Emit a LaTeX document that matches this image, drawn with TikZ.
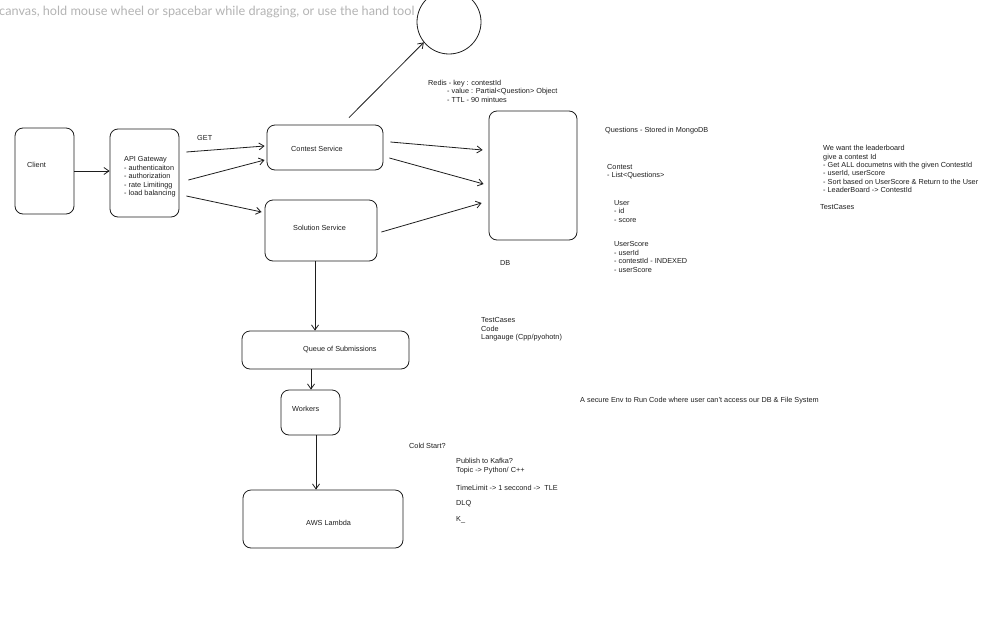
\documentclass[tikz,border=0pt]{standalone}
\usepackage{fontspec}
\setmainfont{Liberation Sans}
\newfontfamily\hintfont{Lato}
\usetikzlibrary{positioning,arrows.meta,calc}
\definecolor{ink}{HTML}{1E1E1E}
\definecolor{hint}{HTML}{B4B4B4}

\begin{document}
\begin{tikzpicture}[x=1pt,y=-1pt,every node/.style={font=\fontsize{7.3}{8.4}\selectfont,text=ink}]
    \tikzstyle{box}=[rectangle,draw=ink,rounded corners=8pt,inner sep=0pt,line width=0.8pt];
    \tikzstyle{txt}=[anchor=west,align=left,inner sep=0pt];
    \tikzstyle{arr}=[-{Straight Barb[length=5pt,width=7pt]},draw=ink,line width=0.8pt];
    \useasboundingbox[fill=white] (0,0) rectangle (1000,621);
    % hint from the canvas
    \node[anchor=west,inner sep=0pt,font=\hintfont\fontsize{12.7}{14}\selectfont,text=hint] (hintline) at (-1,12)
       {canvas, hold mouse wheel or spacebar while dragging, or use the hand tool};
    % boxes
    \node[box,minimum width=59pt,minimum height=86pt] (client) at (44.5,171) {};
    \node[box,minimum width=69pt,minimum height=88pt] (api) at (144.5,173) {};
    \node[box,minimum width=116pt,minimum height=45pt] (contest) at (325,147.5) {};
    \node[box,minimum width=112pt,minimum height=61pt] (solution) at (321,230.5) {};
    \node[box,minimum width=88pt,minimum height=129pt] (db) at (533,175.5) {};
    \node[box,minimum width=167pt,minimum height=38pt] (queue) at (325.5,350) {};
    \node[box,minimum width=59pt,minimum height=45pt] (workers) at (310.5,412.5) {};
    \node[box,minimum width=160pt,minimum height=58pt] (lambda) at (323,519) {};
    \node[circle,draw=ink,line width=0.8pt,minimum size=64pt,inner sep=0pt] (cache) at (449,22) {};
    % box texts
    \node[txt] (clientt) at (27,165) {Client};
    \node[txt] (apit) at (124,177) {API Gateway\\- authenticaiton\\- authorization\\- rate Limitingg\\- load balancing};
    \node[txt] (contestt) at (291,149) {Contest Service};
    \node[txt] (solutiont) at (293,228) {Solution Service};
    \node[txt] (dbt) at (500,263) {DB};
    \node[txt] (queuet) at (303,350) {Queue of Submissions};
    \node[txt] (workerst) at (292,409) {Workers};
    \node[txt] (lambdat) at (306,523) {AWS Lambda};
    \node[txt] (get) at (197,138) {GET};
    % connectors
    \draw[arr] (client.east) -- (client.east -| api.west);
    \draw[arr] ([xshift=7pt,yshift=21pt]api.east) -- ([xshift=-2pt,yshift=1.5pt]contest.west);
    \draw[arr] ([xshift=9pt,yshift=-7pt]api.east) -- ([xshift=-2pt,yshift=-12.5pt]contest.west);
    \draw[arr] ([xshift=7pt,yshift=-23pt]api.east) -- ([xshift=-3pt,yshift=18.5pt]solution.west);
    \draw[arr] ([xshift=7pt,yshift=5.5pt]contest.east) -- ([xshift=-6pt,yshift=25.5pt]db.west);
    \draw[arr] ([xshift=6pt,yshift=-10.5pt]contest.east) -- ([xshift=-5pt,yshift=-8.5pt]db.west);
    \draw[arr] ([xshift=4pt,yshift=-1.5pt]solution.east) -- ([xshift=-7pt,yshift=-27.5pt]db.west);
    \draw[arr] ([xshift=24pt,yshift=7pt]contest.north) -- (cache.219);
    \draw[arr] ([xshift=-6pt]solution.south) -- ([xshift=-6pt]solution.south |- queue.north);
    \draw[arr] ([xshift=-14.5pt]queue.south) -- ([xshift=-14.5pt]queue.south |- workers.north);
    \draw[arr] ([xshift=5.5pt]workers.south) -- ([xshift=5.5pt]workers.south |- lambda.north);
    % notes
    \node[txt] (redis) at (428,91) {Redis - key : contestId\\\hspace{19pt}- value : Partial<Question> Object\\\hspace{19pt}- TTL - 90 mintues};
    \node[txt] (questions) at (605,131) {Questions - Stored in MongoDB};
    \node[txt] (contestn) at (607,171.5) {Contest\\- List<Questions>};
    \node[txt] (usern) at (614,211.5) {User\\- id\\- score};
    \node[txt] (userscore) at (614,257) {UserScore\\- userId\\- contestId - INDEXED\\- userScore};
    \node[txt] (leader) at (823,169) {We want the leaderboard\\give a contest Id\\- Get ALL documetns with the given ContestId\\- userId, userScore\\- Sort based on UserScore \& Return to the User\\- LeaderBoard -> ContestId};
    \node[txt] (testcases) at (820,207) {TestCases};
    \node[txt] (payload) at (481,329.5) {TestCases\\Code\\Langauge (Cpp/pyohotn)};
    \node[txt] (secure) at (580,401) {A secure Env to Run Code where user can't access our DB \& File System};
    \node[txt] (cold) at (409,446) {Cold Start?};
    \node[txt] (kafka) at (456,466) {Publish to Kafka?\\Topic -> Python/ C++};
    \node[txt] (tle) at (456,488) {TimeLimit -> 1 seccond ->\ \ TLE};
    \node[txt] (dlq) at (456,504) {DLQ};
    \node[txt] (kk) at (456,520) {K\_};
  \end{tikzpicture}
\end{document}
